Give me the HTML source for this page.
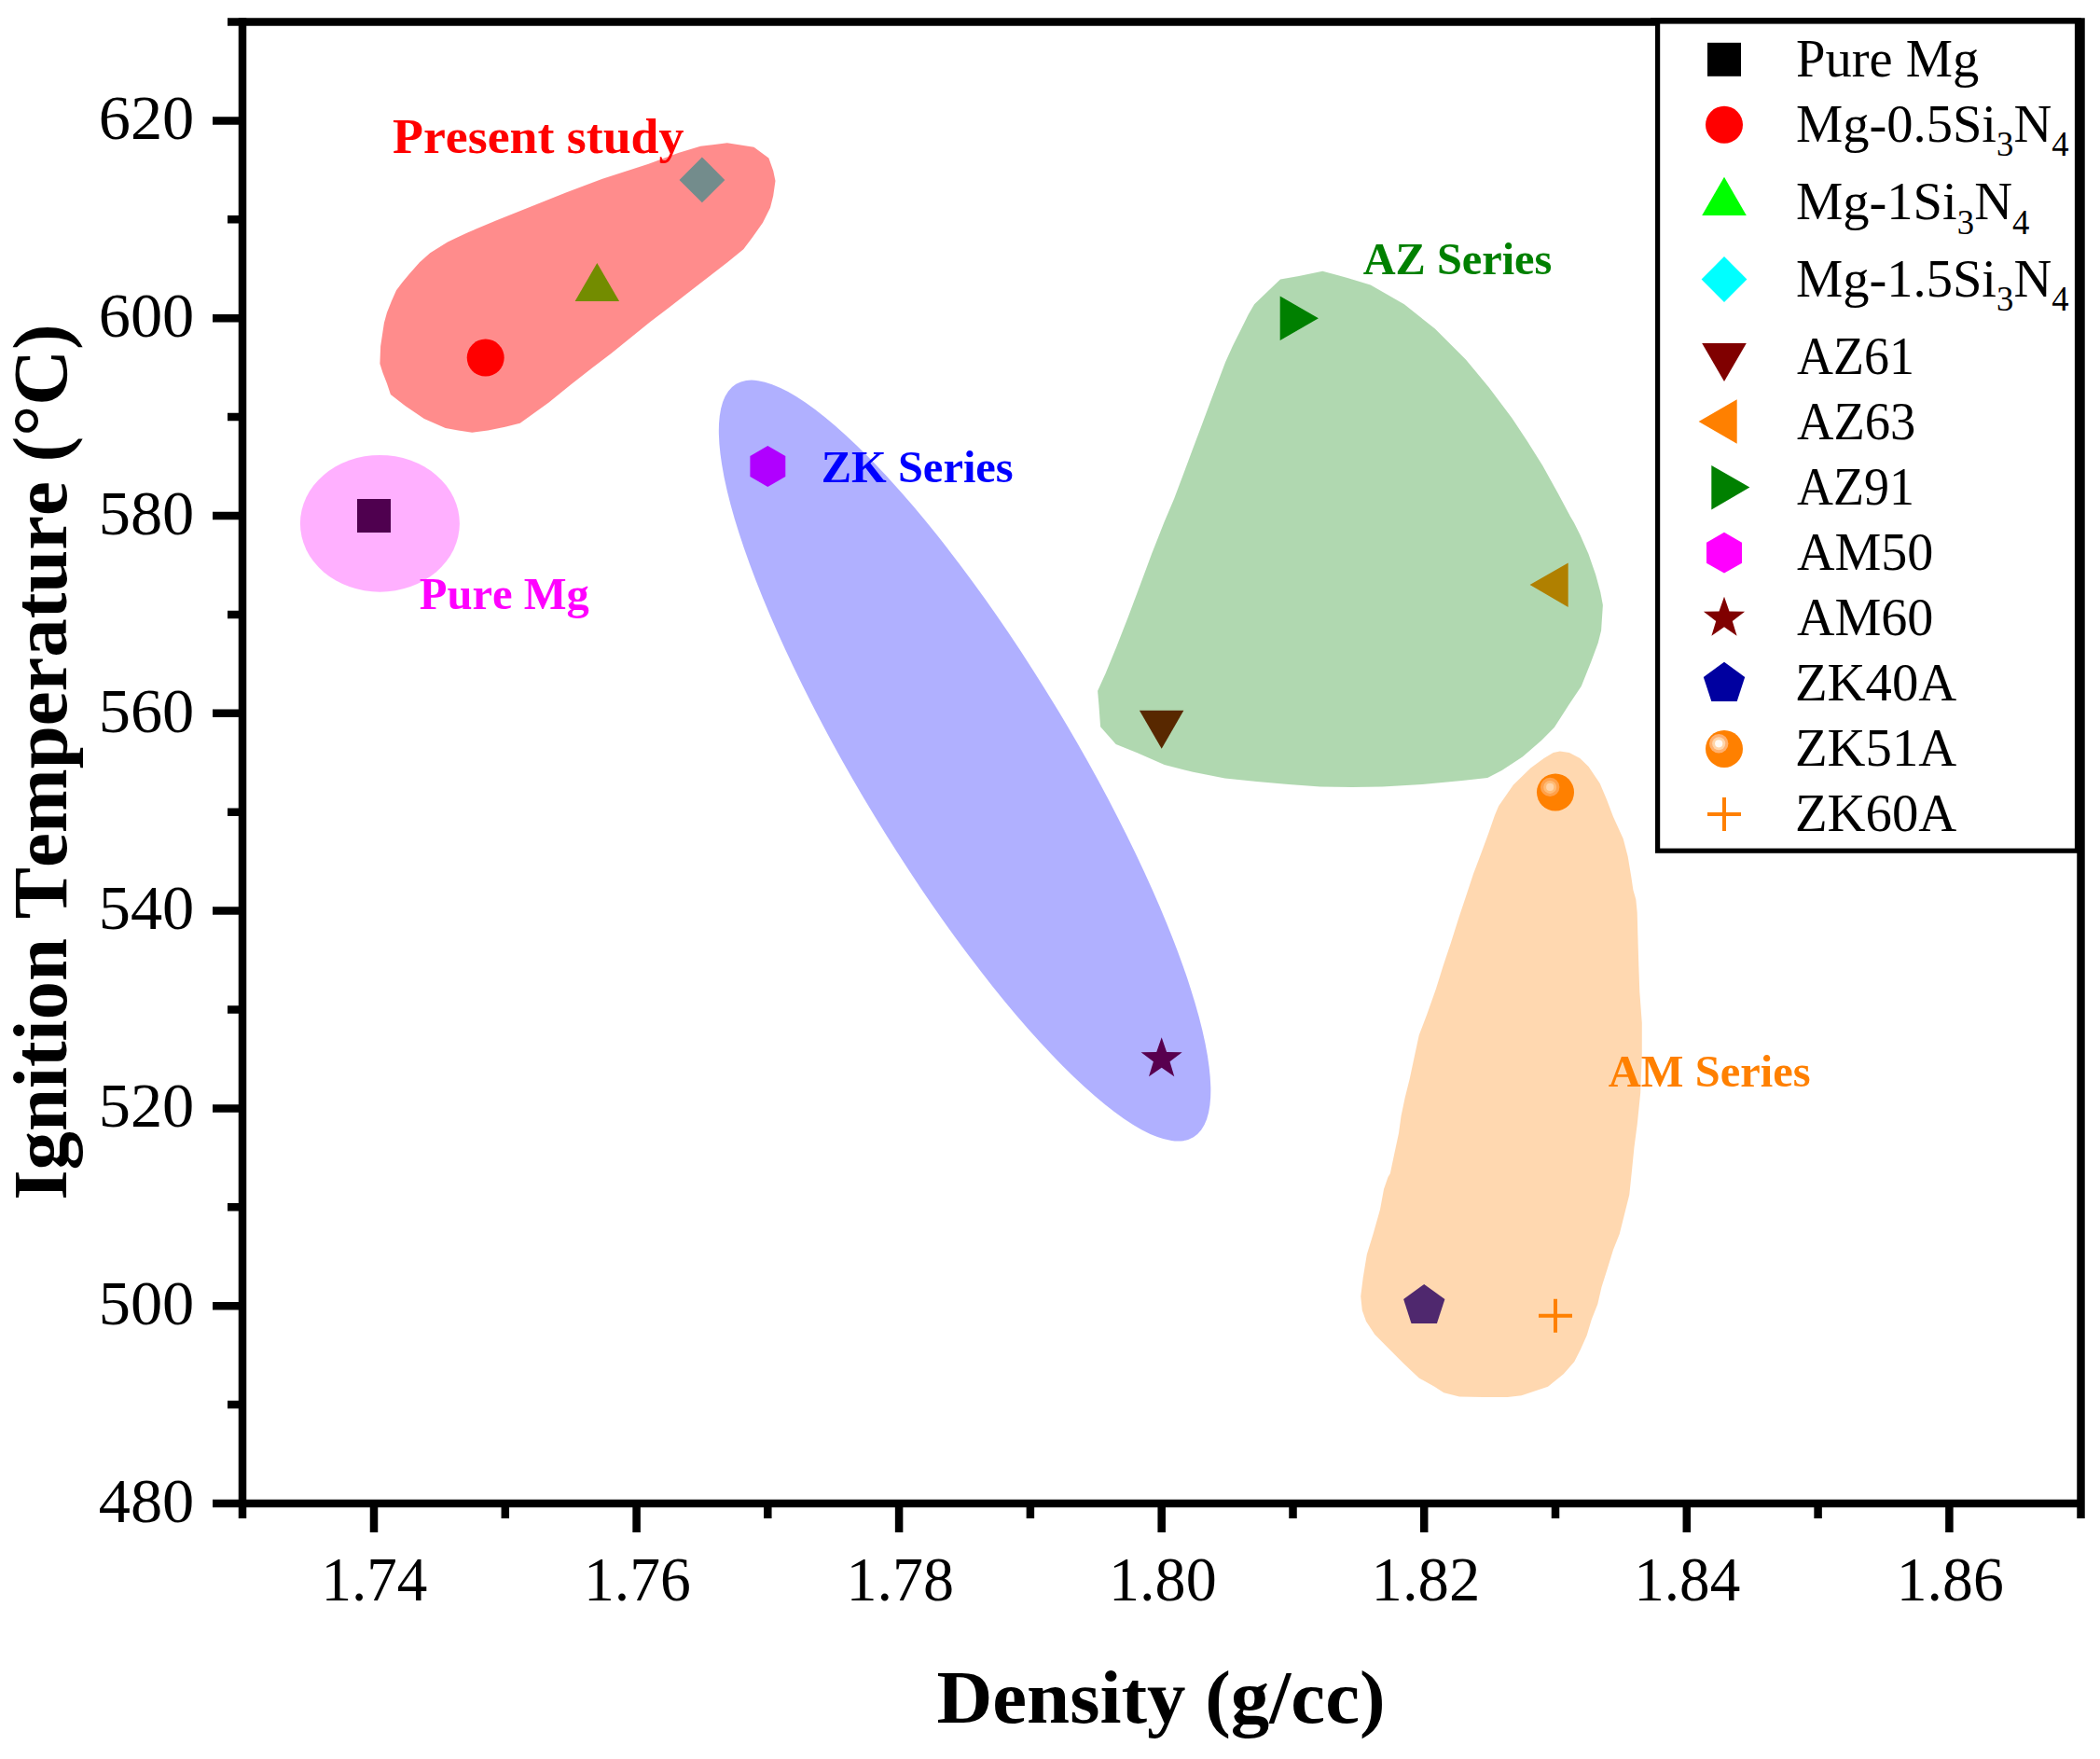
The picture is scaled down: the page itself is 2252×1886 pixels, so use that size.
<!DOCTYPE html>
<html lang="en">
<head>
<meta charset="utf-8">
<title>Ignition Temperature vs Density</title>
<style>
html,body{margin:0;padding:0;background:#fff;}
body{width:2252px;height:1886px;overflow:hidden;}
svg{display:block;}
</style>
</head>
<body>
<svg width="2252" height="1886" viewBox="0 0 2252 1886" font-family='"Liberation Serif", serif' shape-rendering="geometricPrecision" style="font-kerning:none">
<rect x="0" y="0" width="2252" height="1886" fill="#ffffff"/>
<g id="points">
<rect x="383.0" y="535.0" width="36" height="36" fill="#000000"/>
<circle cx="520.7" cy="383.6" r="20" fill="#ff0000"/>
<polygon points="640.3,282.0 616.6,323.1 664.1,323.1" fill="#00ff00"/>
<polygon points="752.9,168.5 777.3,192.9 752.9,217.3 728.5,192.9" fill="#00ffff"/>
<polygon points="1245.7,802.8 1221.9,761.7 1269.4,761.7" fill="#800000"/>
<polygon points="1640.6,627.1 1681.7,603.4 1681.7,650.9" fill="#ff8000"/>
<polygon points="1413.9,341.2 1372.7,317.5 1372.7,365.0" fill="#008000"/>
<polygon points="823.3,478.1 842.3,489.1 842.3,511.0 823.3,521.9 804.4,511.0 804.4,489.1" fill="#ff00ff"/>
<polygon points="1245.7,1112.2 1251.1,1127.9 1267.7,1128.3 1254.5,1138.3 1259.3,1154.2 1245.7,1144.7 1232.0,1154.2 1236.9,1138.3 1223.6,1128.3 1240.2,1127.9" fill="#800000"/>
<polygon points="1527.2,1376.9 1549.4,1393.0 1540.9,1419.1 1513.5,1419.1 1505.1,1393.0" fill="#0000a0"/>
<circle cx="1668.0" cy="849.5" r="20" fill="#ff8000"/><circle cx="1662.2" cy="843.9" r="10.2" fill="#ffb06e"/><circle cx="1662.2" cy="843.9" r="7" fill="#ffd5aa"/><circle cx="1662.2" cy="843.9" r="4.1" fill="#fffaf5"/>
<path d="M1650.0,1410.8H1686.0M1668.0,1392.8V1428.8" stroke="#ff8000" stroke-width="4" fill="none"/>
</g>
<g id="regions">
<path d="M779.8,153.2L808.5,157.8L824.4,169.4L829.2,183.0L831.5,194.1L829.2,210.0L826.0,222.7L818.0,238.7L806.9,254.6L797.3,267.3L779.8,281.6L759.1,297.5L738.4,313.5L717.8,329.4L697.1,345.3L676.4,362.0L655.7,378.7L635.0,394.6L612.0,412.5L588.6,431.4L557.7,453.7L541.7,457.7L523.4,461.4L506.3,463.8L491.4,461.4L477.7,458.9L454.9,449.1L434.3,434.9L418.9,422.9L414.9,410.9L410.6,399.9L407.4,389.9L408.1,371.2L410.0,358.8L411.9,346.2L415.0,335.0L420.0,322.5L425.0,311.2L431.2,303.1L440.0,292.5L450.0,281.2L461.2,271.2L480.0,259.4L501.2,249.4L532.5,236.2L570.0,221.2L607.5,206.2L646.0,191.7L695.5,175.8L727.3,163.9L751.2,156.7Z" fill="#ff0000" fill-opacity="0.45"/>
<ellipse cx="407.4" cy="561.3" rx="85.5" ry="73.4" fill="#ff00ff" fill-opacity="0.31"/>
<ellipse cx="1034.6" cy="815.6" rx="472.4" ry="113.5" transform="rotate(58.72 1034.6 815.6)" fill="#0000ff" fill-opacity="0.31"/>
<path d="M1418.3,290.8L1434.2,295.1L1445.0,298.0L1469.7,305.6L1505.9,326.2L1538.9,352.5L1571.9,385.5L1596.6,415.2L1621.4,448.2L1637.8,472.9L1654.3,499.3L1670.8,529.0L1684.0,553.7L1688.0,560.5L1694.5,573.6L1703.5,594.1L1711.2,616.3L1716.3,635.0L1718.9,648.7L1717.1,676.0L1713.7,689.6L1706.1,710.1L1695.8,735.7L1682.2,756.1L1666.8,780.0L1653.2,793.7L1632.7,811.6L1610.6,826.1L1595.2,834.1L1567.9,837.1L1525.3,841.1L1482.6,843.5L1450.0,844.0L1415.8,843.5L1381.7,841.1L1347.6,838.0L1313.5,834.6L1279.4,827.8L1248.7,820.1L1219.7,807.3L1196.7,797.9L1180.1,779.2L1178.4,756.1L1177.1,740.8L1185.6,722.0L1197.5,693.0L1209.5,662.3L1222.3,628.2L1235.0,594.1L1248.4,560.0L1259.1,534.7L1268.7,509.2L1278.2,483.8L1287.8,458.3L1297.3,432.8L1306.9,407.3L1314.1,388.2L1322.0,370.7L1330.8,353.2L1338.7,337.3L1345.1,326.2L1359.4,312.6L1373.0,299.4L1392.9,295.9Z" fill="#008000" fill-opacity="0.31"/>
<path d="M1672.9,805.4L1682.9,806.9L1694.3,812.9L1703.6,822.1L1715.7,840.0L1722.9,857.1L1730.0,875.7L1740.7,899.3L1745.7,918.6L1749.3,940.0L1751.4,954.3L1754.3,964.3L1755.7,978.6L1756.4,1004.3L1757.3,1035.0L1758.3,1063.3L1760.8,1096.7L1760.8,1130.0L1759.2,1171.7L1755.8,1205.0L1752.5,1230.0L1750.0,1255.0L1747.3,1281.0L1741.7,1303.3L1736.7,1323.3L1730.0,1340.0L1723.3,1361.7L1717.5,1380.0L1713.3,1398.3L1706.7,1415.0L1701.7,1431.7L1695.0,1446.7L1688.3,1460.0L1676.7,1473.3L1660.0,1486.7L1631.7,1496.3L1616.7,1498.0L1590.0,1498.0L1565.0,1497.5L1548.3,1493.3L1538.3,1486.7L1521.7,1477.5L1505.0,1461.7L1488.3,1445.0L1474.2,1430.8L1465.0,1416.7L1460.8,1405.0L1459.2,1390.0L1461.7,1370.0L1465.8,1345.0L1472.5,1323.3L1480.0,1296.7L1484.0,1275.0L1488.5,1262.0L1490.8,1258.3L1495.0,1238.3L1500.0,1215.0L1502.5,1196.7L1506.7,1176.7L1511.7,1156.7L1516.7,1133.3L1521.7,1110.0L1530.0,1088.3L1540.0,1060.0L1547.8,1035.0L1555.7,1011.4L1564.3,984.3L1572.9,958.6L1580.0,937.1L1588.6,914.3L1596.4,892.9L1602.9,874.3L1607.1,864.3L1622.9,841.4L1641.4,823.6L1655.7,812.9L1665.7,806.9Z" fill="#ff8000" fill-opacity="0.31"/>
</g>
<text transform="translate(421.06 164.15) scale(1.0352 1.0099)" font-size="52" font-weight="bold" fill="#ff0000">Present study</text>
<text transform="translate(449.81 653.10) scale(0.9949 1.0031)" font-size="48.8" font-weight="bold" fill="#ff00ff">Pure Mg</text>
<text transform="translate(880.78 516.56) scale(0.9933 1.0088)" font-size="48.8" font-weight="bold" fill="#0000ff">ZK Series</text>
<text transform="translate(1461.67 293.56) scale(0.9906 1.0059)" font-size="48.8" font-weight="bold" fill="#008000">AZ Series</text>
<text transform="translate(1724.87 1164.66) scale(0.9932 1.0059)" font-size="48.8" font-weight="bold" fill="#ff8000">AM Series</text>
<g stroke="#000" stroke-width="8.5" fill="none" stroke-linecap="butt">
<path d="M260.0,23.5H2231.5M260.0,1612.0H2231.5"/>
<path d="M260.0,19.25V1628"/>
<path d="M228,1612.0H260.0M244,1506.1H260.0M228,1400.2H260.0M244,1294.3H260.0M228,1188.4H260.0M244,1082.5H260.0M228,976.6H260.0M244,870.7H260.0M228,764.8H260.0M244,658.9H260.0M228,553.0H260.0M244,447.1H260.0M228,341.2H260.0M244,235.3H260.0M228,129.4H260.0M244,23.5H260.0"/>
<path d="M401.0,1612.0V1643M541.8,1612.0V1628M682.6,1612.0V1643M823.3,1612.0V1628M964.1,1612.0V1643M1104.9,1612.0V1628M1245.7,1612.0V1643M1386.5,1612.0V1628M1527.2,1612.0V1643M1668.0,1612.0V1628M1808.8,1612.0V1643M1949.6,1612.0V1628M2090.4,1612.0V1643"/>
</g>
<text transform="translate(105.70 1631.83) scale(1.0000 1.0000)" font-size="68.4" fill="#000">480</text>
<text transform="translate(105.70 1420.03) scale(1.0000 1.0000)" font-size="68.4" fill="#000">500</text>
<text transform="translate(105.70 1208.23) scale(1.0000 1.0000)" font-size="68.4" fill="#000">520</text>
<text transform="translate(105.70 996.43) scale(1.0000 1.0000)" font-size="68.4" fill="#000">540</text>
<text transform="translate(105.70 784.63) scale(1.0000 1.0000)" font-size="68.4" fill="#000">560</text>
<text transform="translate(105.70 572.83) scale(1.0000 1.0000)" font-size="68.4" fill="#000">580</text>
<text transform="translate(105.70 361.03) scale(1.0000 1.0000)" font-size="68.4" fill="#000">600</text>
<text transform="translate(105.70 149.23) scale(1.0000 1.0000)" font-size="68.4" fill="#000">620</text>
<text transform="translate(344.44 1715.90) scale(0.9524 0.9978)" font-size="68.4" fill="#000">1.74</text>
<text transform="translate(625.94 1715.91) scale(0.9609 0.9906)" font-size="68.4" fill="#000">1.76</text>
<text transform="translate(907.47 1715.91) scale(0.9667 0.9906)" font-size="68.4" fill="#000">1.78</text>
<text transform="translate(1189.03 1715.91) scale(0.9667 0.9906)" font-size="68.4" fill="#000">1.80</text>
<text transform="translate(1470.54 1715.91) scale(0.9755 0.9906)" font-size="68.4" fill="#000">1.82</text>
<text transform="translate(1752.24 1715.91) scale(0.9524 0.9906)" font-size="68.4" fill="#000">1.84</text>
<text transform="translate(2033.74 1715.91) scale(0.9609 0.9906)" font-size="68.4" fill="#000">1.86</text>
<text transform="translate(1004.42 1847.49) scale(1.0363 1.0137)" font-size="80" font-weight="bold" fill="#000">Density (g/cc)</text>
<text transform="translate(71.45 1286.76) rotate(-90) scale(1.0355 1.0274)" font-size="80" font-weight="bold" fill="#000">Ignition Temperature (°C)</text>
<rect x="1777.6" y="23.0" width="449.9000000000001" height="889.2" fill="#fff" stroke="#000" stroke-width="5.2"/>
<path d="M2231.5,19.25V1628" stroke="#000" stroke-width="8.5"/>
<path d="M1770,21.6H2231.5" stroke="#000" stroke-width="5"/>
<rect x="1831.0" y="45.8" width="36" height="36" fill="#000000"/>
<text transform="translate(1925.95 82.10) scale(0.9918 1.0000)" font-size="57.0" fill="#000">Pure Mg</text>
<circle cx="1849.0" cy="133.8" r="20" fill="#ff0000"/>
<text transform="translate(1925.95 151.80) scale(0.9918 1.0000)" font-size="57.0" fill="#000">Mg-0.5Si<tspan font-size="37" dy="15.3">3</tspan><tspan dy="-15.3">N</tspan><tspan font-size="37" dy="15.3">4</tspan></text>
<polygon points="1849.0,189.8 1825.2,230.9 1872.8,230.9" fill="#00ff00"/>
<text transform="translate(1925.95 235.20) scale(0.9923 1.0000)" font-size="57.0" fill="#000">Mg-1Si<tspan font-size="37" dy="15.3">3</tspan><tspan dy="-15.3">N</tspan><tspan font-size="37" dy="15.3">4</tspan></text>
<polygon points="1849.0,275.1 1873.4,299.5 1849.0,323.9 1824.6,299.5" fill="#00ffff"/>
<text transform="translate(1925.95 318.10) scale(0.9918 1.0000)" font-size="57.0" fill="#000">Mg-1.5Si<tspan font-size="37" dy="15.3">3</tspan><tspan dy="-15.3">N</tspan><tspan font-size="37" dy="15.3">4</tspan></text>
<polygon points="1849.0,409.0 1825.2,367.9 1872.8,367.9" fill="#800000"/>
<text transform="translate(1926.97 400.80) scale(0.9473 1.0000)" font-size="57.0" fill="#000">AZ61</text>
<polygon points="1821.6,452.0 1862.7,428.2 1862.7,475.8" fill="#ff8000"/>
<text transform="translate(1926.96 470.80) scale(0.9585 1.0000)" font-size="57.0" fill="#000">AZ63</text>
<polygon points="1876.4,522.6 1835.3,498.9 1835.3,546.4" fill="#008000"/>
<text transform="translate(1926.97 541.00) scale(0.9473 1.0000)" font-size="57.0" fill="#000">AZ91</text>
<polygon points="1849.0,570.8 1868.0,581.8 1868.0,603.7 1849.0,614.6 1830.0,603.7 1830.0,581.8" fill="#ff00ff"/>
<text transform="translate(1926.94 611.00) scale(0.9842 1.0000)" font-size="57.0" fill="#000">AM50</text>
<polygon points="1849.0,639.8 1854.5,655.5 1871.1,655.8 1857.8,665.9 1862.6,681.8 1849.0,672.3 1835.4,681.8 1840.2,665.9 1826.9,655.8 1843.5,655.5" fill="#800000"/>
<text transform="translate(1926.94 681.10) scale(0.9842 1.0000)" font-size="57.0" fill="#000">AM60</text>
<polygon points="1849.0,709.8 1871.2,725.9 1862.7,752.0 1835.3,752.0 1826.8,725.9" fill="#0000a0"/>
<text transform="translate(1924.94 750.70) scale(0.9959 1.0000)" font-size="57.0" fill="#000">ZK40A</text>
<circle cx="1849.0" cy="802.9" r="20" fill="#ff8000"/><circle cx="1843.2" cy="797.3" r="10.2" fill="#ffb06e"/><circle cx="1843.2" cy="797.3" r="7" fill="#ffd5aa"/><circle cx="1843.2" cy="797.3" r="4.1" fill="#fffaf5"/>
<text transform="translate(1924.94 820.50) scale(0.9959 1.0000)" font-size="57.0" fill="#000">ZK51A</text>
<path d="M1831.0,873.1H1867.0M1849.0,855.1V891.1" stroke="#ff8000" stroke-width="4" fill="none"/>
<text transform="translate(1924.94 891.00) scale(0.9959 1.0000)" font-size="57.0" fill="#000">ZK60A</text>
</svg>
</body>
</html>
